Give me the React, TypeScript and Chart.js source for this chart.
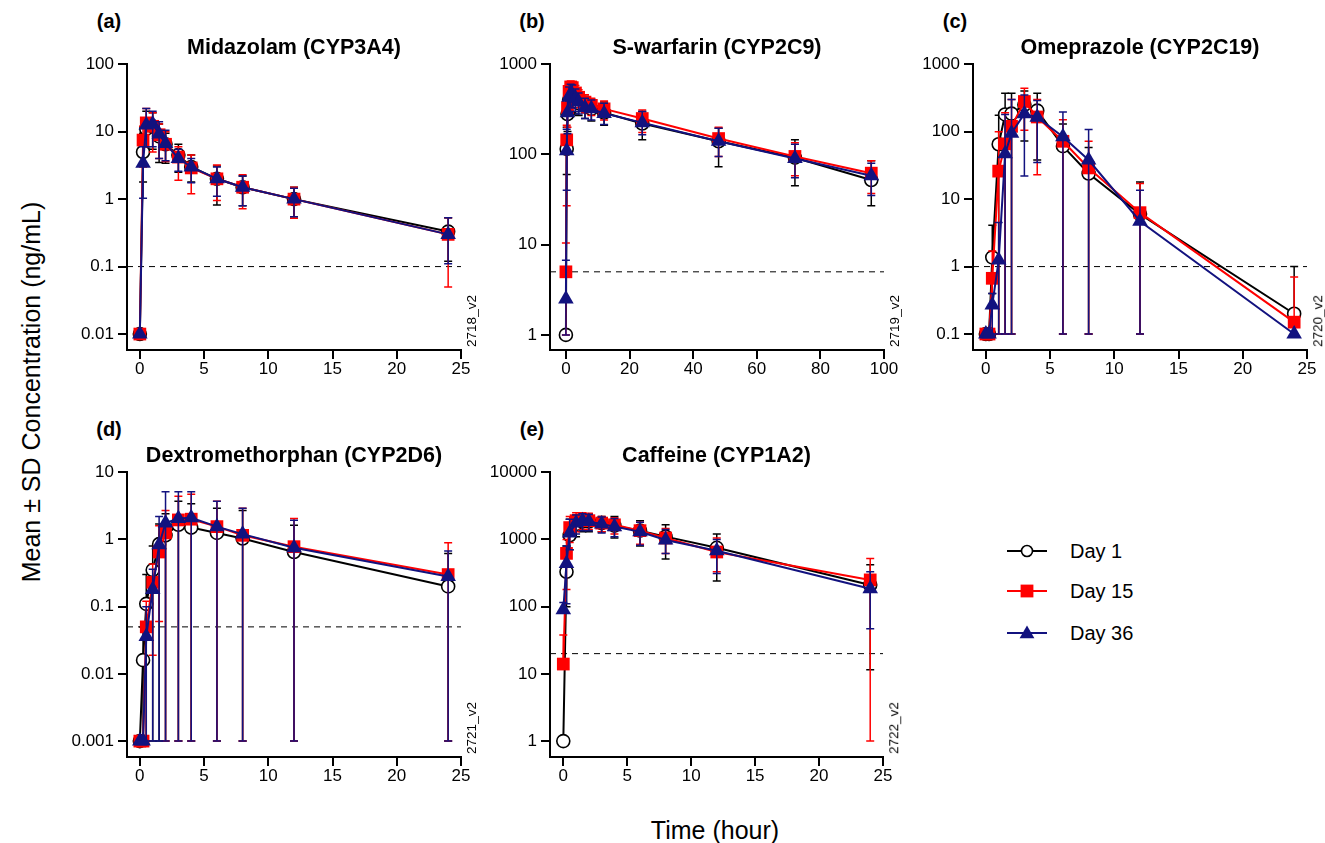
import React, { useEffect, useRef } from 'react';
import { Chart, registerables } from 'chart.js';

Chart.register(...registerables);

const FONT = "'Liberation Sans', Arial, Helvetica, sans-serif";
const BLACK = '#000000';
const RED = '#ff0000';
const NAVY = '#12127f';

// ---------------- Data ----------------
const seriesLabels = ['Day 1', 'Day 15', 'Day 36'];
const xTicks25 = [0, 5, 10, 15, 20, 25];
const xTicks100 = [0, 20, 40, 60, 80, 100];

const midazolamYTicks = [0.01, 0.1, 1, 10, 100];
const warfarinYTicks = [1, 10, 100, 1000];
const omeprazoleYTicks = [0.1, 1, 10, 100, 1000];
const dextroYTicks = [0.001, 0.01, 0.1, 1, 10];
const caffeineYTicks = [1, 10, 100, 1000, 10000];

// (a) Midazolam
const midazolamTime = [0, 0.25, 0.5, 1, 1.5, 2, 3, 4, 6, 8, 12, 24];
const midazolamDay1 = [0.01, 5.0, 11, 12, 8.5, 6.5, 4.5, 3.0, 2.0, 1.5, 1.0, 0.33];
const midazolamDay1Hi = [null, 9.5, 20, 19, 13, 9.5, 6.5, 4.5, 3.1, 2.2, 1.5, 0.53];
const midazolamDay1Lo = [null, 1.8, 5.5, 5.5, 3.5, 3.4, 2.5, 1.8, 0.82, 0.8, 0.55, 0.12];
const midazolamDay15 = [0.01, 7.5, 13.5, 12, 9.0, 6.5, 4.2, 2.9, 2.0, 1.5, 1.0, 0.3];
const midazolamDay15Hi = [null, 12, 22, 19, 13, 10, 6.0, 4.5, 3.2, 2.3, 1.5, 0.53];
const midazolamDay15Lo = [null, 3.0, 6.0, 5.0, 4.0, 3.6, 1.9, 1.2, 0.95, 0.72, 0.52, 0.05];
const midazolamDay36 = [0.01, 3.4, 12.5, 13, 9.2, 6.7, 4.0, 3.0, 2.0, 1.5, 1.0, 0.3];
const midazolamDay36Hi = [null, 6.0, 22, 20, 14, 10.5, 5.5, 4.0, 3.0, 2.2, 1.45, 0.53];
const midazolamDay36Lo = [null, 1.03, 6.0, 6.0, 4.0, 3.7, 2.6, 1.75, 1.1, 0.8, 0.55, 0.11];

// (b) S-warfarin
const warfarinTime = [0, 0.25, 0.5, 1, 1.5, 2, 3, 4, 6, 8, 12, 24, 48, 72, 96];
const warfarinDay1 = [1, 115, 280, 400, 430, 430, 400, 370, 340, 320, 290, 220, 140, 92, 52];
const warfarinDay1Hi = [null, 200, 400, 560, 600, 600, 540, 490, 440, 410, 380, 300, 195, 145, 85];
const warfarinDay1Lo = [null, 60, 180, 260, 280, 290, 280, 270, 250, 235, 210, 145, 73, 45, 27];
const warfarinDay15 = [5, 145, 330, 500, 560, 550, 480, 430, 380, 350, 320, 250, 150, 95, 62];
const warfarinDay15Hi = [10.4, 210, 450, 620, 650, 640, 580, 520, 460, 420, 390, 310, 200, 135, 85];
const warfarinDay15Lo = [1, 27, 200, 330, 380, 390, 360, 330, 290, 270, 240, 175, 95, 58, 37];
const warfarinDay36 = [2.5, 110, 290, 430, 470, 460, 420, 380, 330, 320, 285, 225, 140, 90, 58];
const warfarinDay36Hi = [6.7, 190, 400, 560, 600, 590, 530, 480, 420, 400, 370, 300, 195, 130, 80];
const warfarinDay36Lo = [1, 40, 170, 290, 330, 330, 300, 280, 250, 240, 215, 165, 95, 55, 35];

// (c) Omeprazole
const omeprazoleTime = [0, 0.25, 0.5, 1, 1.5, 2, 3, 4, 6, 8, 12, 24];
const omeprazoleDay1 = [0.1, 0.1, 1.37, 65, 180, 185, 250, 205, 61, 24, 6.0, 0.2];
const omeprazoleDay1Hi = [null, null, 4.1, 175, 370, 370, 400, 370, 130, 58, 18, 1.0];
const omeprazoleDay1Lo = [null, null, 0.4, 0.1, 0.1, 0.1, 73, 38, 0.1, 0.1, 0.1, 0.1];
const omeprazoleDay15 = [0.1, 0.1, 0.67, 26, 66, 120, 280, 165, 72, 29, 6.3, 0.15];
const omeprazoleDay15Hi = [null, null, 1.7, 100, 190, 300, 440, 300, 150, 72, 17, 0.7];
const omeprazoleDay15Lo = [null, null, 0.1, 0.1, 0.1, 0.1, 105, 23, 0.1, 0.1, 0.1, 0.1];
const omeprazoleDay36 = [0.1, 0.1, 0.27, 1.25, 47, 95, 185, 163, 84, 38, 4.7, 0.1];
const omeprazoleDay36Hi = [null, null, 0.4, 4.5, 180, 300, 350, 290, 195, 108, 13.5, null];
const omeprazoleDay36Lo = [null, null, 0.1, 0.1, 0.1, 0.1, 22, 35, 0.1, 0.1, 0.1, null];

// (d) Dextromethorphan
const dextroTime = [0, 0.25, 0.5, 1, 1.5, 2, 3, 4, 6, 8, 12, 24];
const dextroDay1 = [0.001, 0.016, 0.11, 0.35, 0.85, 1.15, 1.65, 1.5, 1.25, 1.03, 0.65, 0.2];
const dextroDay1Hi = [null, 0.05, 0.3, 0.8, 1.7, 2.4, 3.7, 3.4, 2.9, 2.7, 1.63, 0.62];
const dextroDay1Lo = [null, 0.001, 0.001, 0.001, 0.001, 0.001, 0.001, 0.001, 0.001, 0.001, 0.001, 0.001];
const dextroDay15 = [0.001, 0.001, 0.05, 0.23, 0.65, 1.25, 1.95, 2.0, 1.55, 1.15, 0.78, 0.3];
const dextroDay15Hi = [null, null, 0.12, 0.43, 1.6, 2.7, 4.4, 4.7, 3.7, 2.9, 2.05, 0.89];
const dextroDay15Lo = [null, null, 0.001, 0.019, 0.06, 0.001, 0.001, 0.001, 0.001, 0.001, 0.001, 0.001];
const dextroDay36 = [0.001, 0.001, 0.036, 0.18, 0.83, 1.75, 2.05, 2.1, 1.55, 1.2, 0.75, 0.28];
const dextroDay36Hi = [null, null, 0.1, 0.36, 2.2, 5.1, 5.1, 5.1, 3.7, 2.9, 1.93, 0.67];
const dextroDay36Lo = [null, null, 0.001, 0.001, 0.001, 0.001, 0.001, 0.001, 0.001, 0.001, 0.001, 0.001];

// (e) Caffeine
const caffeineTime = [0, 0.25, 0.5, 1, 1.5, 2, 3, 4, 6, 8, 12, 24];
const caffeineDay1 = [1, 330, 1150, 1700, 1850, 1850, 1750, 1600, 1350, 1100, 750, 210];
const caffeineDay1Hi = [null, 800, 2000, 2300, 2400, 2400, 2200, 2200, 1900, 1650, 1200, 420];
const caffeineDay1Lo = [null, 100, 700, 1100, 1300, 1300, 1300, 1050, 800, 510, 240, 11.5];
const caffeineDay15 = [14, 620, 1500, 1900, 1950, 1900, 1750, 1650, 1350, 1050, 650, 250];
const caffeineDay15Hi = [38, 1000, 2200, 2500, 2500, 2450, 2200, 2100, 1800, 1450, 1050, 520];
const caffeineDay15Lo = [null, 180, 900, 1300, 1400, 1400, 1300, 1200, 850, 620, 330, 1];
const caffeineDay36 = [90, 440, 1250, 1750, 1900, 1850, 1700, 1550, 1300, 980, 680, 185];
const caffeineDay36Hi = [115, 800, 2000, 2300, 2400, 2350, 2150, 2050, 1800, 1400, 1000, 330];
const caffeineDay36Lo = [null, 110, 700, 1200, 1350, 1350, 1250, 1100, 820, 620, 310, 47];

// Lower limits of quantification (dashed lines)
const lloqValues = [0.1, 5, 1, 0.05, 20];

// ---------------- Panels (layout) ----------------
type Ser = { y: number[]; hi: (number | null)[]; lo: (number | null)[] };
type PanelDef = {
  label: string; title: string; tag: string;
  L: number; R: number; T: number; B: number;
  xMin: number; xMax: number; xTicks: number[];
  yMin: number; yMax: number; yTicks: number[];
  lloq: number; times: number[]; series: Ser[];
};

const panels: PanelDef[] = [
  {
    label: '(a)', title: 'Midazolam (CYP3A4)', tag: '2718_v2',
    L: 127, R: 461, T: 64, B: 350, xMin: -1, xMax: 25, xTicks: xTicks25,
    yMin: 0.0058, yMax: 100, yTicks: midazolamYTicks, lloq: lloqValues[0], times: midazolamTime,
    series: [
      { y: midazolamDay1, hi: midazolamDay1Hi, lo: midazolamDay1Lo },
      { y: midazolamDay15, hi: midazolamDay15Hi, lo: midazolamDay15Lo },
      { y: midazolamDay36, hi: midazolamDay36Hi, lo: midazolamDay36Lo },
    ],
  },
  {
    label: '(b)', title: 'S-warfarin (CYP2C9)', tag: '2719_v2',
    L: 550, R: 884, T: 64, B: 350, xMin: -5, xMax: 100, xTicks: xTicks100,
    yMin: 0.68, yMax: 1000, yTicks: warfarinYTicks, lloq: lloqValues[1], times: warfarinTime,
    series: [
      { y: warfarinDay1, hi: warfarinDay1Hi, lo: warfarinDay1Lo },
      { y: warfarinDay15, hi: warfarinDay15Hi, lo: warfarinDay15Lo },
      { y: warfarinDay36, hi: warfarinDay36Hi, lo: warfarinDay36Lo },
    ],
  },
  {
    label: '(c)', title: 'Omeprazole (CYP2C19)', tag: '2720_v2',
    L: 973, R: 1307, T: 64, B: 350, xMin: -1, xMax: 25, xTicks: xTicks25,
    yMin: 0.058, yMax: 1000, yTicks: omeprazoleYTicks, lloq: lloqValues[2], times: omeprazoleTime,
    series: [
      { y: omeprazoleDay1, hi: omeprazoleDay1Hi, lo: omeprazoleDay1Lo },
      { y: omeprazoleDay15, hi: omeprazoleDay15Hi, lo: omeprazoleDay15Lo },
      { y: omeprazoleDay36, hi: omeprazoleDay36Hi, lo: omeprazoleDay36Lo },
    ],
  },
  {
    label: '(d)', title: 'Dextromethorphan (CYP2D6)', tag: '2721_v2',
    L: 127, R: 461, T: 472, B: 757, xMin: -1, xMax: 25, xTicks: xTicks25,
    yMin: 0.00058, yMax: 10, yTicks: dextroYTicks, lloq: lloqValues[3], times: dextroTime,
    series: [
      { y: dextroDay1, hi: dextroDay1Hi, lo: dextroDay1Lo },
      { y: dextroDay15, hi: dextroDay15Hi, lo: dextroDay15Lo },
      { y: dextroDay36, hi: dextroDay36Hi, lo: dextroDay36Lo },
    ],
  },
  {
    label: '(e)', title: 'Caffeine (CYP1A2)', tag: '2722_v2',
    L: 550, R: 883, T: 472, B: 757, xMin: -1.04, xMax: 25, xTicks: xTicks25,
    yMin: 0.58, yMax: 10000, yTicks: caffeineYTicks, lloq: lloqValues[4], times: caffeineTime,
    series: [
      { y: caffeineDay1, hi: caffeineDay1Hi, lo: caffeineDay1Lo },
      { y: caffeineDay15, hi: caffeineDay15Hi, lo: caffeineDay15Lo },
      { y: caffeineDay36, hi: caffeineDay36Hi, lo: caffeineDay36Lo },
    ],
  },
];

const seriesStyles = [
  { color: BLACK, pointStyle: 'circle', radius: 6.5, bg: '#ffffff', bw: 1.6, order: 3 },
  { color: RED, pointStyle: 'rect', radius: 9, bg: RED, bw: 0, order: 2 },
  { color: NAVY, pointStyle: 'triangle', radius: 9, bg: NAVY, bw: 0, order: 1 },
];

const errorBarPlugin = {
  id: 'errorBars',
  beforeDatasetDraw(chart: any, args: any) {
    const ds = chart.data.datasets[args.index];
    if (!ds.errHi && !ds.errLo) return;
    const xs = chart.scales.x;
    const ys = chart.scales.y;
    const ctx = chart.ctx;
    ctx.save();
    ctx.strokeStyle = ds.borderColor;
    ctx.lineWidth = 1.5;
    const cap = 4;
    ds.data.forEach((p: any, i: number) => {
      const hi = ds.errHi ? ds.errHi[i] : null;
      const lo = ds.errLo ? ds.errLo[i] : null;
      if (hi == null && lo == null) return;
      const px = xs.getPixelForValue(p.x);
      const py = ys.getPixelForValue(p.y);
      const top = hi == null ? py : ys.getPixelForValue(hi);
      const bot = lo == null ? py : ys.getPixelForValue(lo);
      ctx.beginPath();
      ctx.moveTo(px, top);
      ctx.lineTo(px, bot);
      if (hi != null) {
        ctx.moveTo(px - cap, top);
        ctx.lineTo(px + cap, top);
      }
      if (lo != null) {
        ctx.moveTo(px - cap, bot);
        ctx.lineTo(px + cap, bot);
      }
      ctx.stroke();
    });
    ctx.restore();
  },
};

const Y_W = 67;
const X_H = 36;
const PAD_T = 14;
const PAD_R = 22;

function Panel({ p }: { p: PanelDef }) {
  const ref = useRef<HTMLCanvasElement>(null);
  const left = p.L - Y_W;
  const top = p.T - PAD_T;
  const width = p.R - p.L + Y_W + PAD_R;
  const height = p.B - p.T + PAD_T + X_H;

  useEffect(() => {
    if (!ref.current) return;
    const datasets: any[] = p.series.map((s, k) => {
      const st = seriesStyles[k];
      return {
        label: seriesLabels[k],
        data: p.times.map((t, i) => ({ x: t, y: s.y[i] })),
        errHi: s.hi,
        errLo: s.lo,
        borderColor: st.color,
        backgroundColor: st.color,
        borderWidth: 2,
        pointStyle: st.pointStyle,
        pointRadius: st.radius,
        pointBackgroundColor: st.bg,
        pointBorderColor: st.color,
        pointBorderWidth: st.bw,
        tension: 0,
        clip: false,
        order: st.order,
      };
    });
    datasets.push({
      label: 'LLOQ',
      data: [{ x: p.xMin, y: p.lloq }, { x: p.xMax, y: p.lloq }],
      borderColor: BLACK,
      borderWidth: 1,
      borderDash: [6, 5],
      pointRadius: 0,
      order: 4,
      clip: false,
    });

    const gridOpts = {
      display: true,
      drawOnChartArea: false,
      drawTicks: true,
      tickLength: 9,
      lineWidth: 2,
      tickWidth: 2,
      color: BLACK,
      tickColor: BLACK,
    };
    const chart = new Chart(ref.current, {
      type: 'line',
      data: { datasets },
      plugins: [errorBarPlugin],
      options: {
        responsive: false,
        animation: false,
        events: [],
        layout: { padding: { left: 0, top: PAD_T, right: PAD_R, bottom: 0 } },
        plugins: {
          legend: { display: false },
          tooltip: { enabled: false },
          title: { display: false },
        },
        scales: {
          x: {
            type: 'linear',
            min: p.xMin,
            max: p.xMax,
            afterBuildTicks: (s: any) => { s.ticks = p.xTicks.map((v) => ({ value: v })); },
            afterFit: (s: any) => { s.height = X_H; },
            grid: gridOpts,
            border: { display: true, color: BLACK, width: 2 },
            ticks: {
              font: { family: FONT, size: 17 },
              color: BLACK,
              padding: 0,
              maxRotation: 0,
              autoSkip: false,
              callback: (v: any) => String(v),
            },
          },
          y: {
            type: 'logarithmic',
            min: p.yMin,
            max: p.yMax,
            afterBuildTicks: (s: any) => { s.ticks = p.yTicks.map((v) => ({ value: v })); },
            afterFit: (s: any) => { s.width = Y_W; },
            grid: gridOpts,
            border: { display: true, color: BLACK, width: 2 },
            ticks: {
              font: { family: FONT, size: 17 },
              color: BLACK,
              padding: 4,
              autoSkip: false,
              callback: (v: any) => String(v),
            },
          },
        },
      } as any,
    });
    return () => chart.destroy();
  }, []);

  const cx = (p.L + p.R) / 2;
  return (
    <>
      <canvas
        ref={ref}
        width={width}
        height={height}
        style={{ position: 'absolute', left, top, width, height }}
      />
      <Txt x={p.L - 18} y={p.T - 43} style={{ fontWeight: 'bold', fontSize: 20 }}>{p.label}</Txt>
      <Txt x={cx} y={p.T - 16} style={{ fontWeight: 'bold', fontSize: 21.5 }}>{p.title}</Txt>
      <Txt x={p.R + 11} y={p.B - 29} rotate style={{ fontSize: 13.5 }}>{p.tag}</Txt>
    </>
  );
}

function Txt({ x, y, children, style, rotate }: any) {
  return (
    <div
      style={{
        position: 'absolute',
        left: x,
        top: y,
        transform: `translate(-50%, -50%)${rotate ? ' rotate(-90deg)' : ''}`,
        whiteSpace: 'nowrap',
        fontFamily: FONT,
        lineHeight: 1,
        color: BLACK,
        ...style,
      }}
    >
      {children}
    </div>
  );
}

function LegendRow({ y, k }: { y: number; k: number }) {
  const st = seriesStyles[k];
  let marker: any = null;
  if (k === 0) marker = <circle cx={27} cy={10} r={5.5} fill="#fff" stroke={BLACK} strokeWidth={1.6} />;
  if (k === 1) marker = <rect x={27 - 6.4} y={10 - 6.4} width={12.8} height={12.8} fill={RED} />;
  if (k === 2) marker = <polygon points={`27,2.5 34.4,15.3 19.6,15.3`} fill={NAVY} />;
  return (
    <>
      <svg
        width={60}
        height={20}
        style={{ position: 'absolute', left: 1000, top: y - 10 }}
      >
        <line x1={7} y1={10} x2={47} y2={10} stroke={st.color} strokeWidth={2} />
        {marker}
      </svg>
      <div
        style={{
          position: 'absolute',
          left: 1070,
          top: y,
          transform: 'translateY(-50%)',
          fontFamily: FONT,
          fontSize: 20,
          lineHeight: 1,
          whiteSpace: 'nowrap',
        }}
      >
        {seriesLabels[k]}
      </div>
    </>
  );
}

export default function App() {
  return (
    <div
      style={{
        position: 'absolute',
        left: 0,
        top: 0,
        width: 1325,
        height: 843,
        background: '#ffffff',
        overflow: 'hidden',
      }}
    >
      {panels.map((p, i) => (
        <Panel key={i} p={p} />
      ))}
      <Txt x={31} y={392} rotate style={{ fontSize: 25 }}>Mean ± SD Concentration (ng/mL)</Txt>
      <Txt x={715} y={830} style={{ fontSize: 25 }}>Time (hour)</Txt>
      <LegendRow y={551} k={0} />
      <LegendRow y={591} k={1} />
      <LegendRow y={633} k={2} />
    </div>
  );
}
